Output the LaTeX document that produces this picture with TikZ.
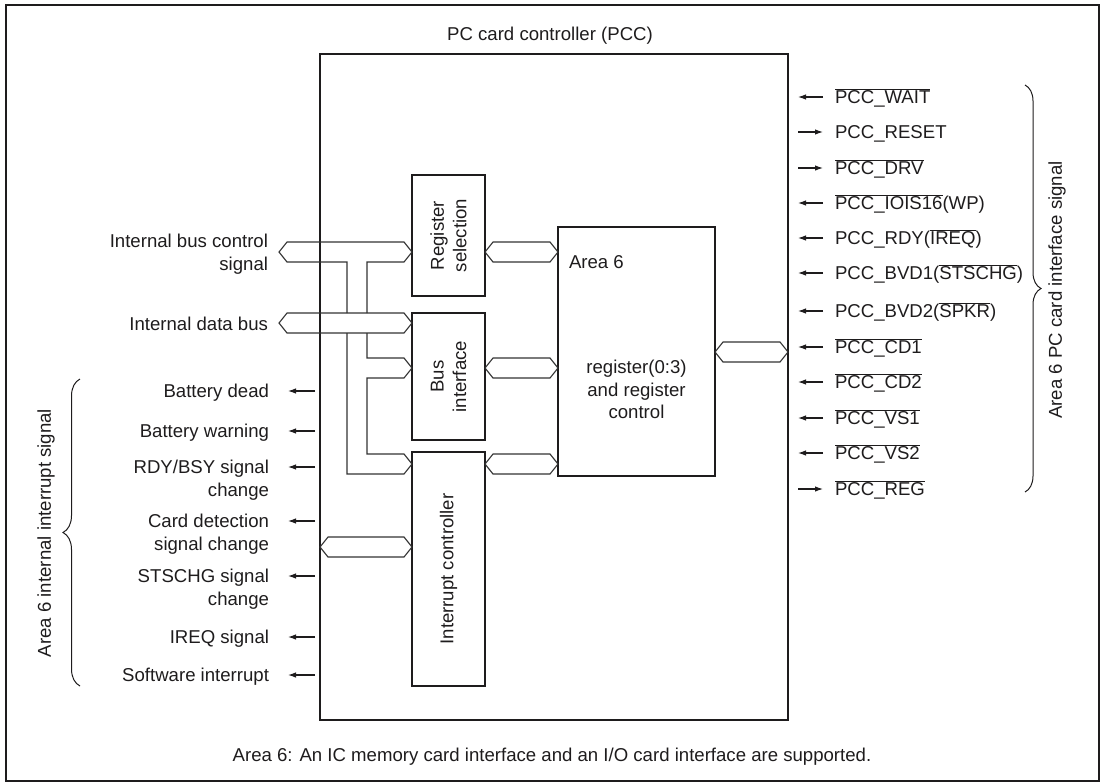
\documentclass[tikz,border=0pt]{standalone}
\usepackage{fontspec}
\setmainfont{Liberation Sans}
\usetikzlibrary{arrows.meta,decorations.pathreplacing,calc}
\definecolor{ln}{RGB}{30,28,29}
\definecolor{txt}{RGB}{30,28,29}
\definecolor{busc}{RGB}{50,50,50}
\newcommand{\ovl}[1]{$\overline{\mbox{#1}}$}
% hexagonal bus between two named coordinates
\newcommand{\hexbus}[2]{\draw[bus] (#1) -- ($(#1)+(8,-10)$) -- ($(#2)+(-8,-10)$) -- (#2) -- ($(#2)+(-8,10)$) -- ($(#1)+(8,10)$) -- cycle;}
\begin{document}
\begin{tikzpicture}[x=1pt,y=-1pt,
  every node/.style={font=\fontsize{18.6}{22.5}\selectfont, text=txt, inner sep=0pt, outer sep=0pt},
  blk/.style={draw=ln, line width=1.8pt},
  bus/.style={draw=busc, line width=1.1pt, line join=miter},
  sigout/.style={draw=ln, line width=1.1pt, -{Latex[length=8pt,width=5.5pt]}},
  brc/.style={draw=ln, line width=1pt, decorate, decoration={brace, amplitude=#1}}]
\useasboundingbox (0,0) rectangle (1100,782);
% outer frame
\draw[ln, line width=1.7pt] (6,5) rectangle (1099,781);
% title and footer
\node[anchor=base] (title) at (550,40.7) {PC card controller (PCC)};
\node[anchor=base] (foot) at (552,761) {Area 6: An IC memory card interface and an I/O card interface are supported.};
% main boxes
\node[blk, anchor=north west, minimum width=468pt, minimum height=666pt] (pcc) at (320,54) {};
\node[blk, anchor=north west, minimum width=73pt, minimum height=121pt] (regsel) at (412,175) {};
\node[blk, anchor=north west, minimum width=73pt, minimum height=127pt] (busif) at (412,313) {};
\node[blk, anchor=north west, minimum width=73pt, minimum height=234pt] (intc) at (412,452) {};
\node[blk, anchor=north west, minimum width=157pt, minimum height=249pt] (area6) at (558,227) {};
\node[rotate=90, align=center] (regseltxt) at (regsel.center) {Register\\selection};
\node[rotate=90, align=center] (busiftxt) at (busif.center) {Bus\\interface};
\node[rotate=90] (intctxt) at (intc.center) {Interrupt controller};
\node[anchor=base west] (a6t) at (569,268.7) {Area 6};
\node[anchor=base] (a6reg) at ($(area6.north)+(0,146.7)$) {\begin{tabular}[t]{@{}c@{}}register(0:3)\\and register\\control\end{tabular}};
% bus labels
\node[anchor=base east] (cblab) at (268,247.7) {\begin{tabular}[t]{@{}r@{}}Internal bus control\\signal\end{tabular}};
\node[anchor=base east] (dblab) at (268,330.7) {Internal data bus};
% bus coordinates
\coordinate (cbl) at (279,252);
\coordinate (cbr) at (regsel.west |- 0,252);
\coordinate (dbl) at (279,323);
\coordinate (dbr) at (busif.west |- 0,323);
\coordinate (r1a) at (regsel.east |- 0,252);
\coordinate (r1b) at (area6.west |- 0,252);
\coordinate (r2a) at (busif.east |- 0,368);
\coordinate (r2b) at (area6.west |- 0,368);
\coordinate (r3a) at (intc.east |- 0,464);
\coordinate (r3b) at (area6.west |- 0,464);
\coordinate (r4a) at (area6.east |- 0,352);
\coordinate (r4b) at (pcc.east |- 0,352);
\coordinate (ila) at (pcc.west |- 0,547);
\coordinate (ilb) at (intc.west |- 0,547);
\coordinate (bit) at (busif.west |- 0,368);
\coordinate (ict) at (intc.west |- 0,464);
% internal bus control signal (T shape)
\draw[bus] (347,313) -- (347,262) -- ($(cbl)+(8,10)$) -- (cbl) -- ($(cbl)+(8,-10)$) -- ($(cbr)+(-8,-10)$) -- (cbr) -- ($(cbr)+(-8,10)$) -- (367,262) -- (367,313);
% internal data bus
\hexbus{dbl}{dbr}
% branches to bus interface and interrupt controller
\draw[bus] (367,333) -- (367,358) -- ($(bit)+(-8,-10)$) -- (bit) -- ($(bit)+(-8,10)$) -- (367,378) -- (367,454) -- ($(ict)+(-8,-10)$) -- (ict) -- ($(ict)+(-8,10)$) -- (347,474) -- (347,333);
% inner buses
\hexbus{r1a}{r1b}
\hexbus{r2a}{r2b}
\hexbus{r3a}{r3b}
\hexbus{r4a}{r4b}
\hexbus{ila}{ilb}
% right signals
\foreach \y/\d/\t in {97/in/{\ovl{PCC\_WAIT}},
  132/out/{PCC\_RESET},
  168/out/{\ovl{PCC\_DRV}},
  203/in/{\ovl{PCC\_IOIS16}(WP)},
  238/in/{PCC\_RDY(\ovl{IREQ})},
  273/in/{PCC\_BVD1(\ovl{STSCHG})},
  311/in/{PCC\_BVD2(\ovl{SPKR})},
  347/in/{\ovl{PCC\_CD1}},
  382/in/{\ovl{PCC\_CD2}},
  418/in/{\ovl{PCC\_VS1}},
  453/in/{\ovl{PCC\_VS2}},
  489/out/{\ovl{PCC\_REG}}}{
  \node[anchor=base west] (rs\y) at (835,\y+6.7) {\t};
  \coordinate (rsa\y) at ($(rs\y.base west)+(-37,-6.7)$);
  \coordinate (rsb\y) at ($(rs\y.base west)+(-12,-6.7)$);
  \ifnum\pdfstrcmp{\d}{in}=0
    \draw[sigout] (rsb\y) -- (rsa\y);
  \else
    \draw[sigout] (rsa\y) -- (rsb\y);
  \fi
}
% left signals
\foreach \y/\t in {391/{Battery dead},
  431/{Battery warning},
  467/{RDY/BSY signal\\change},
  521/{Card detection\\signal change},
  576/{STSCHG signal\\change},
  637/{IREQ signal},
  675/{Software interrupt}}{
  \node[anchor=base east] (ls\y) at (269,\y+6.7) {\begin{tabular}[t]{@{}r@{}}\t\end{tabular}};
  \coordinate (lsa\y) at ($(ls\y.base east)+(46,-6.7)$);
  \coordinate (lsb\y) at ($(ls\y.base east)+(19,-6.7)$);
  \draw[sigout] (lsa\y) -- (lsb\y);
}
% braces
\draw[brc=16pt] (1025,85) -- (1025,492);
\node[rotate=90] (rlab) at (1057,290) {Area 6 PC card interface signal};
\draw[brc=17pt] (80,686) -- (80,379);
\node[rotate=90] (llab) at (46,533) {Area 6 internal interrupt signal};
\end{tikzpicture}
\end{document}
